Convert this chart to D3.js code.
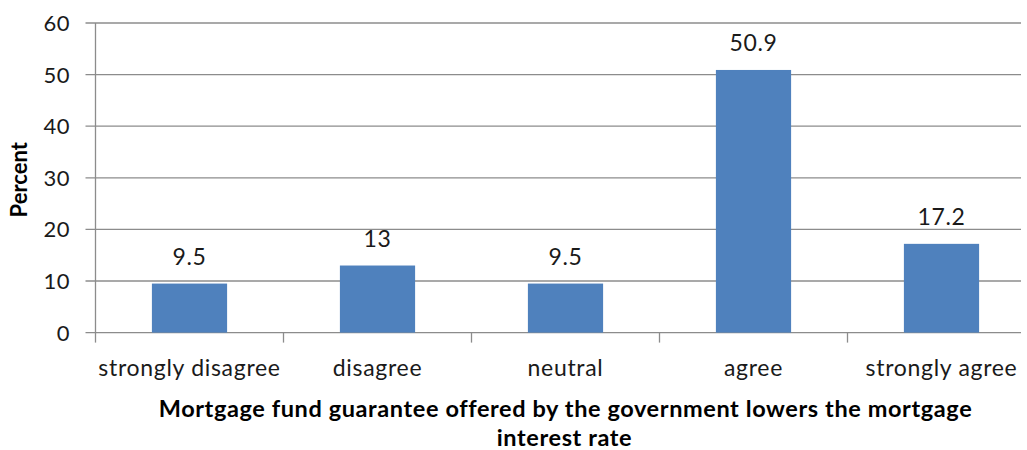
<!DOCTYPE html>
<html>
<head>
<meta charset="utf-8">
<script src="https://cdn.jsdelivr.net/npm/d3@7"></script>
<style>
  body { margin: 0; background: #fff; }
  text { font-family: Lato, "Open Sans", sans-serif; }
</style>
</head>
<body>
<div id="chart"></div>
<script>
// Chart data
const categories = ['strongly disagree', 'disagree', 'neutral', 'agree', 'strongly agree'];
const percentValues = [9.5, 13, 9.5, 50.9, 17.2];
const valueLabels = ['9.5', '13', '9.5', '50.9', '17.2'];
const yTicks = [0, 10, 20, 30, 40, 50, 60];
const xTitleLines = ['Mortgage fund guarantee offered by the government lowers the mortgage', 'interest rate'];
const yTitle = 'Percent';

const totalWidth = 1027;
const totalHeight = 450;
const margin = { top: 23, left: 95.5 };
// The plot area runs past the right edge of the picture (it is cropped there)
const graphWidth = 940;
const graphHeight = 309.6;
const gridEnd = 925.5;

const svg = d3.select('#chart')
    .append('svg')
    .attr('width', totalWidth)
    .attr('height', totalHeight);

const graph = svg.append('g')
    .attr('transform', `translate(${margin.left}, ${margin.top})`);

// Scales
const x = d3.scaleBand().domain(categories).range([0, graphWidth]).padding(0);
const y = d3.scaleLinear().domain([0, 60]).range([graphHeight, 0]);
const barWidth = x.bandwidth() * 0.4;

// Gridlines (including tick stubs left of the axis)
graph.append('g')
    .selectAll('line')
    .data(yTicks)
    .enter()
    .append('line')
    .attr('x1', -10)
    .attr('x2', gridEnd)
    .attr('y1', d => y(d))
    .attr('y2', d => y(d))
    .attr('stroke', '#8c8c8c')
    .attr('stroke-width', 1.3);

// Y axis labels
graph.append('g')
    .selectAll('text')
    .data(yTicks)
    .enter()
    .append('text')
    .attr('x', -25.5)
    .attr('y', d => y(d))
    .attr('dy', '0.36em')
    .attr('text-anchor', 'end')
    .style('font-size', '22px')
    .style('letter-spacing', '0.5px')
    .attr('fill', '#1a1a1a')
    .text(d => d);

// Y axis line
graph.append('line')
    .attr('x1', 0).attr('x2', 0)
    .attr('y1', 0).attr('y2', graphHeight)
    .attr('stroke', '#8c8c8c')
    .attr('stroke-width', 1.3);

// X axis ticks at category boundaries
const boundaries = categories.map(c => x(c));
graph.append('g')
    .selectAll('line')
    .data(boundaries)
    .enter()
    .append('line')
    .attr('x1', d => d).attr('x2', d => d)
    .attr('y1', graphHeight).attr('y2', graphHeight + 10)
    .attr('stroke', '#8c8c8c')
    .attr('stroke-width', 1.3);

// Bars
graph.selectAll('rect')
    .data(categories)
    .enter()
    .append('rect')
    .attr('x', d => x(d) + (x.bandwidth() - barWidth) / 2)
    .attr('width', barWidth)
    .attr('y', (d, i) => y(percentValues[i]))
    .attr('height', (d, i) => graphHeight - y(percentValues[i]))
    .attr('fill', '#4F81BD');

// Value labels
graph.append('g')
    .selectAll('text')
    .data(categories)
    .enter()
    .append('text')
    .attr('x', d => x(d) + x.bandwidth() / 2)
    .attr('y', (d, i) => y(percentValues[i]) - 19)
    .attr('text-anchor', 'middle')
    .style('font-size', '23px')
    .style('letter-spacing', '0.7px')
    .attr('fill', '#1a1a1a')
    .text((d, i) => valueLabels[i]);

// Category labels
graph.append('g')
    .selectAll('text')
    .data(categories)
    .enter()
    .append('text')
    .attr('x', d => x(d) + x.bandwidth() / 2)
    .attr('y', graphHeight + 43.5)
    .attr('text-anchor', 'middle')
    .style('font-size', '23px')
    .style('letter-spacing', '0.7px')
    .attr('fill', '#1a1a1a')
    .text(d => d);

// X axis title
svg.append('text')
    .attr('x', 565.5)
    .attr('y', 416.5)
    .attr('text-anchor', 'middle')
    .style('font-size', '23.5px')
    .style('letter-spacing', '0.6px')
    .style('font-weight', 'bold')
    .text(xTitleLines[0]);
svg.append('text')
    .attr('x', 564.5)
    .attr('y', 446)
    .attr('text-anchor', 'middle')
    .style('font-size', '23.5px')
    .style('letter-spacing', '0.6px')
    .style('font-weight', 'bold')
    .text(xTitleLines[1]);

// Y axis title
svg.append('text')
    .attr('transform', `translate(27, ${margin.top + graphHeight / 2 + 2}) rotate(-90)`)
    .attr('text-anchor', 'middle')
    .style('font-size', '22px')
    .style('font-weight', 'bold')
    .text(yTitle);
</script>
</body>
</html>
